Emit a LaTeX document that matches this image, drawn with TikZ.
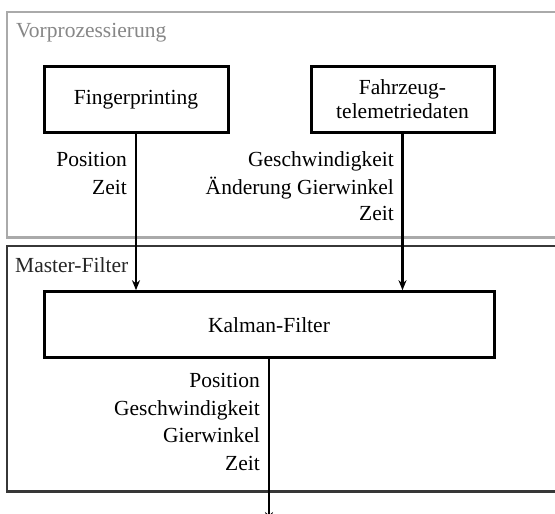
\documentclass[tikz,border=0pt]{standalone}
\usepackage{fontspec}
\setmainfont{Liberation Serif}
\usetikzlibrary{arrows.meta}
\definecolor{grpgray}{RGB}{170,170,170}
\definecolor{grptext}{RGB}{135,135,135}
\definecolor{masterline}{RGB}{55,55,55}
\begin{document}
\begin{tikzpicture}[x=1pt,y=-1pt,
  txt/.style={font=\fontsize{21.5}{27}\selectfont, inner sep=0pt},
  procbox/.style={draw=black, line width=3pt, fill=white, txt, align=center, minimum height=66pt},
  lbl/.style={txt, anchor=base east},
  flow/.style={line width=2.5pt, -{Stealth[length=10pt,width=8pt]}}]
\useasboundingbox (0,0) rectangle (555,514);
\clip (0,0) rectangle (555,514);
\fill[white] (0,0) rectangle (555,514);
% group frames
\draw[grpgray, line width=2.5pt] (7,12) rectangle (575,237.5);
\node[txt, anchor=base west, text=grptext] (vp) at (16,37.5) {Vorprozessierung};
\draw[masterline, line width=2.5pt] (7,246) rectangle (575,491.5);
\node[txt, anchor=base west, text=black!85] (mf) at (15,272.7) {Master-Filter};
% process boxes
\node[procbox, minimum width=184pt] (fp) at (136,99.5) {Fingerprinting};
\node[procbox, minimum width=183pt] (fz) at (402.5,99) {Fahrzeug-\\[-3pt]telemetriedaten};
\node[procbox, minimum width=450pt] (kf) at (269,324.7) {Kalman-Filter};
\coordinate (out) at (269,522);
% connectors
\draw[flow] (fp.south) -- (fp.south |- kf.north);
\draw[flow] (fz.south) -- (fz.south |- kf.north);
\draw[flow] (kf.south) -- (out);
% labels
\node[lbl] (l1) at (127,166.7) {Position};
\node[lbl] (l2) at (127,194) {Zeit};
\node[lbl] (l3) at (394,166.7) {Geschwindigkeit};
\node[lbl] (l4) at (394,194) {Änderung Gierwinkel};
\node[lbl] (l5) at (394,220.7) {Zeit};
\node[lbl] (o1) at (260,387.3) {Position};
\node[lbl] (o2) at (260,415) {Geschwindigkeit};
\node[lbl] (o3) at (260,442.7) {Gierwinkel};
\node[lbl] (o4) at (260,470) {Zeit};
\end{tikzpicture}
\end{document}
